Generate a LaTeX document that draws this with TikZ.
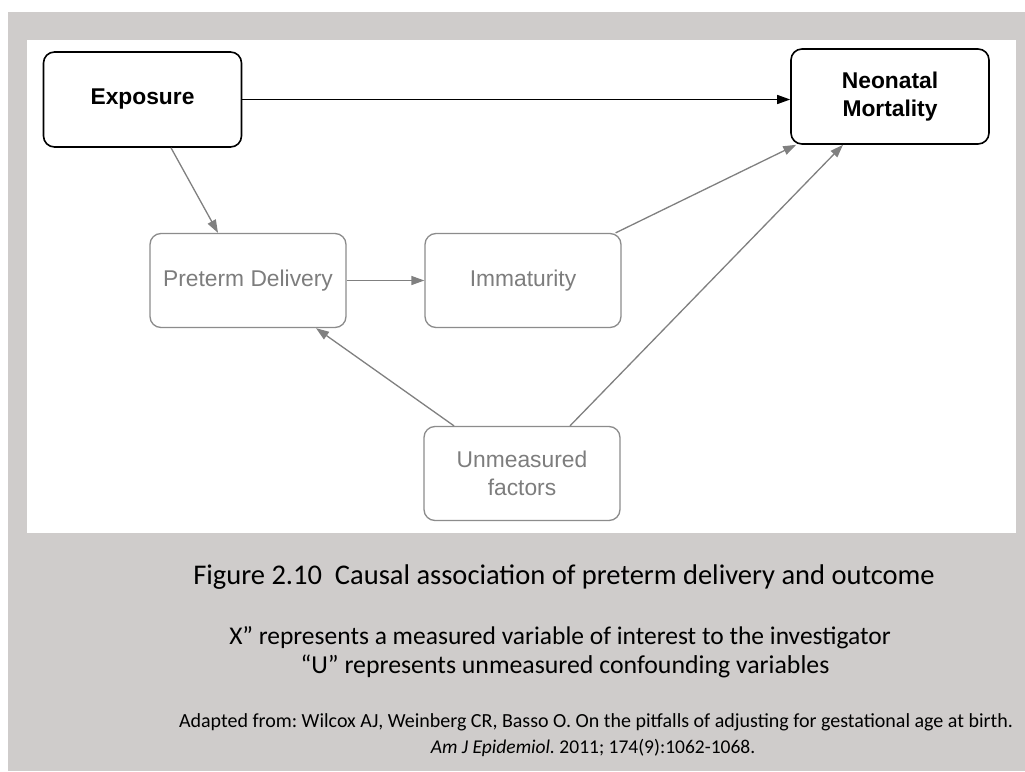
\documentclass[tikz,border=0pt]{standalone}
\usepackage{fontspec}
\setmainfont{Carlito}
\newfontfamily\helv{Liberation Sans}
\usetikzlibrary{arrows.meta}
\frenchspacing
\definecolor{bggray}{RGB}{207,204,203}
\definecolor{boxgray}{RGB}{140,140,140}
\definecolor{txtgray}{RGB}{125,125,125}
\definecolor{arrgray}{RGB}{128,128,128}
\tikzset{
  mainbox/.style={draw=black, line width=1.6pt, rounded corners=11pt, fill=white,
    minimum width=198pt, minimum height=95pt, align=center, inner sep=2pt,
    font=\helv\bfseries\fontsize{22.8}{28}\selectfont, text=black},
  subbox/.style={draw=boxgray, line width=1.3pt, rounded corners=11pt, fill=white,
    minimum width=196pt, minimum height=94pt, align=center, inner sep=2pt,
    font=\helv\fontsize{22.8}{27.5}\selectfont, text=txtgray},
  blackarrow/.style={draw=black, line width=1.3pt, -{Triangle[length=13pt,width=9pt]}},
  grayarrow/.style={draw=arrgray, line width=1.3pt, -{Triangle[length=13pt,width=9pt]}},
  captxt/.style={inner sep=0pt, text=black}
}
\begin{document}
\begin{tikzpicture}[x=1pt,y=-1pt]
\useasboundingbox (0,0) rectangle (1025,771);
\fill[white] (0,0) rectangle (1025,771);
\fill[bggray] (8,12) rectangle (1025,771);
\fill[white] (27,40) rectangle (1016,533);

\node[mainbox] (ex) at (142.5,99.5) {Exposure};
\node[mainbox] (neo) at (890,96.5) {Neonatal\\Mortality};
\node[subbox] (pd) at (248,280.5) {Preterm Delivery};
\node[subbox] (im) at (523,280.5) {Immaturity};
\node[subbox] (um) at (522,473.5) {Unmeasured\\factors};

\draw[blackarrow] (ex.east) -- (ex.east -| neo.west);
\draw[grayarrow] ([xshift=28.5pt]ex.south) -- ([xshift=-30pt]pd.north);
\draw[grayarrow] (pd.east) -- (im.west);
\draw[grayarrow] ([xshift=-6pt]im.north east) -- ([xshift=6pt]neo.south west);
\draw[grayarrow] ([xshift=48pt]um.north) -- ([xshift=-47pt]neo.south);
\draw[grayarrow] ([xshift=-68pt]um.north) -- ([xshift=68pt]pd.south);

\node[captxt, font=\fontsize{28.5}{32}\selectfont] (cap) at (564,577) {Figure 2.10\ \ Causal association of preterm delivery and outcome};
\node[captxt, font=\fontsize{25.5}{30}\selectfont] (l2) at (560,638) {X” represents a measured variable of interest to the investigator};
\node[captxt, font=\fontsize{25.8}{30}\selectfont] (l3) at (565,666) {“U” represents unmeasured confounding variables};
\node[captxt, font=\fontsize{20}{23}\selectfont] (c1) at (596,722) {Adapted from: Wilcox AJ, Weinberg CR, Basso O. On the pitfalls of adjusting for gestational age at birth.};
\node[captxt, font=\fontsize{19.5}{23}\selectfont] (c2) at (593,748) {\textit{Am J Epidemiol.} 2011; 174(9):1062-1068.};
\end{tikzpicture}
\end{document}
